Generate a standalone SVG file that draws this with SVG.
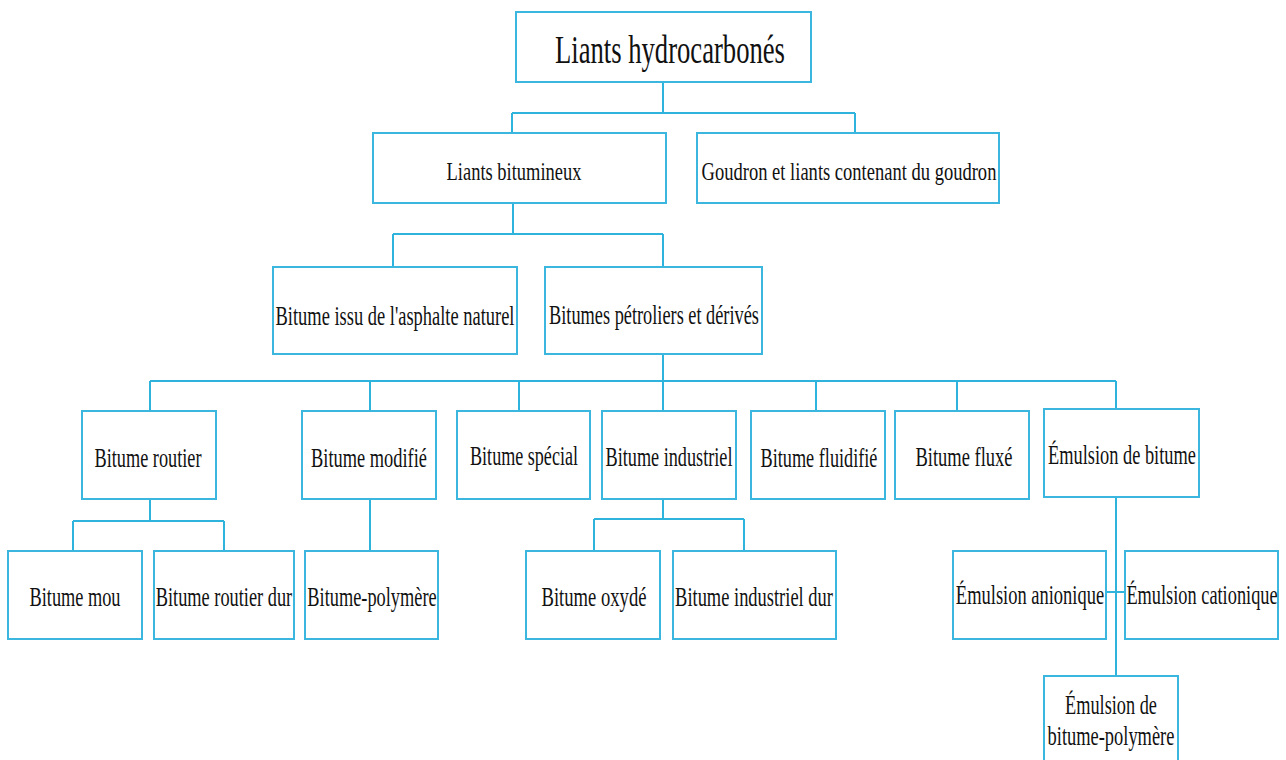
<svg xmlns="http://www.w3.org/2000/svg" width="1286" height="760" viewBox="0 0 1286 760">
<style>
.box{fill:#fff;stroke:#3bb7df;stroke-width:2}
.ln{fill:none;stroke:#2db3dc;stroke-width:2}
text{font-family:"Liberation Serif","Times New Roman",serif;fill:#111;text-anchor:middle;font-variant-ligatures:none}
.t1{font-size:40px}
.t2{font-size:25px}
.t3{font-size:28px}
</style>
<rect width="1286" height="760" fill="#fff"/>
<g id="connectors">
<path class="ln" d="M663 82V113M512 113H855M512 113V133M855 113V133"/>
<path class="ln" d="M513 203V234M393 234H663M393 234V267M663 234V267"/>
<path class="ln" d="M663 354V381M150 381H1116M150 381V411M370 381V411M519 381V411M663 381V411M816 381V411M957 381V411M1116 381V409"/>
<path class="ln" d="M150 499V521M73 521H224M73 521V551M224 521V551"/>
<path class="ln" d="M370 499V551"/>
<path class="ln" d="M663 499V519M594 519H744M594 519V551M744 519V551"/>
<path class="ln" d="M1116 497V676M1107 592H1125"/>
</g>
<g id="n-root"><rect class="box" x="516" y="12" width="295" height="70"/><text class="t1" transform="translate(670 63) scale(0.666 1)">Liants hydrocarbonés</text></g>
<g id="n-bitumineux"><rect class="box" x="373" y="133" width="293" height="70"/><text class="t2" transform="translate(514 180) scale(0.739 1)">Liants bitumineux</text></g>
<g id="n-goudron"><rect class="box" x="697" y="133" width="302" height="70"/><text class="t2" transform="translate(849 180) scale(0.741 1)">Goudron et liants contenant du goudron</text></g>
<g id="n-asphalte"><rect class="box" x="273" y="267" width="244" height="87"/><text class="t3" transform="translate(395 325) scale(0.659 1)">Bitume issu de l'asphalte naturel</text></g>
<g id="n-petroliers"><rect class="box" x="545" y="267" width="217" height="87"/><text class="t3" transform="translate(654 324) scale(0.654 1)">Bitumes pétroliers et dérivés</text></g>
<g id="n-routier"><rect class="box" x="82" y="411" width="134" height="88"/><text class="t3" transform="translate(148 467) scale(0.652 1)">Bitume routier</text></g>
<g id="n-modifie"><rect class="box" x="302" y="411" width="134" height="88"/><text class="t3" transform="translate(369 467) scale(0.657 1)">Bitume modifié</text></g>
<g id="n-special"><rect class="box" x="457" y="411" width="133" height="88"/><text class="t3" transform="translate(524 465) scale(0.646 1)">Bitume spécial</text></g>
<g id="n-industriel"><rect class="box" x="602" y="411" width="134" height="88"/><text class="t3" transform="translate(669 466) scale(0.651 1)">Bitume industriel</text></g>
<g id="n-fluidifie"><rect class="box" x="751" y="411" width="134" height="88"/><text class="t3" transform="translate(819 467) scale(0.651 1)">Bitume fluidifié</text></g>
<g id="n-fluxe"><rect class="box" x="895" y="411" width="134" height="88"/><text class="t3" transform="translate(964 466) scale(0.66 1)">Bitume fluxé</text></g>
<g id="n-emulsion"><rect class="box" x="1044" y="409" width="155" height="88"/><text class="t3" transform="translate(1122 464) scale(0.656 1)">Émulsion de bitume</text></g>
<g id="n-mou"><rect class="box" x="8" y="551" width="134" height="88"/><text class="t3" transform="translate(75 606) scale(0.654 1)">Bitume mou</text></g>
<g id="n-routierdur"><rect class="box" x="154" y="551" width="140" height="88"/><text class="t3" transform="translate(224 606) scale(0.655 1)">Bitume routier dur</text></g>
<g id="n-polymere"><rect class="box" x="305" y="551" width="133" height="88"/><text class="t3" transform="translate(372 606) scale(0.655 1)">Bitume-polymère</text></g>
<g id="n-oxyde"><rect class="box" x="526" y="551" width="134" height="88"/><text class="t3" transform="translate(594 606) scale(0.665 1)">Bitume oxydé</text></g>
<g id="n-industrieldur"><rect class="box" x="673" y="551" width="163" height="88"/><text class="t3" transform="translate(754 606) scale(0.659 1)">Bitume industriel dur</text></g>
<g id="n-anionique"><rect class="box" x="953" y="551" width="153" height="88"/><text class="t3" transform="translate(1030 604) scale(0.66 1)">Émulsion anionique</text></g>
<g id="n-cationique"><rect class="box" x="1125" y="551" width="153" height="88"/><text class="t3" transform="translate(1202 604) scale(0.655 1)">Émulsion cationique</text></g>
<g id="n-emulsionpolymere"><rect class="box" x="1044" y="676" width="134" height="100"/><text class="t3" transform="translate(1111 714) scale(0.653 1)">Émulsion de</text><text class="t3" transform="translate(1111 745) scale(0.658 1)">bitume-polymère</text></g>
</svg>
